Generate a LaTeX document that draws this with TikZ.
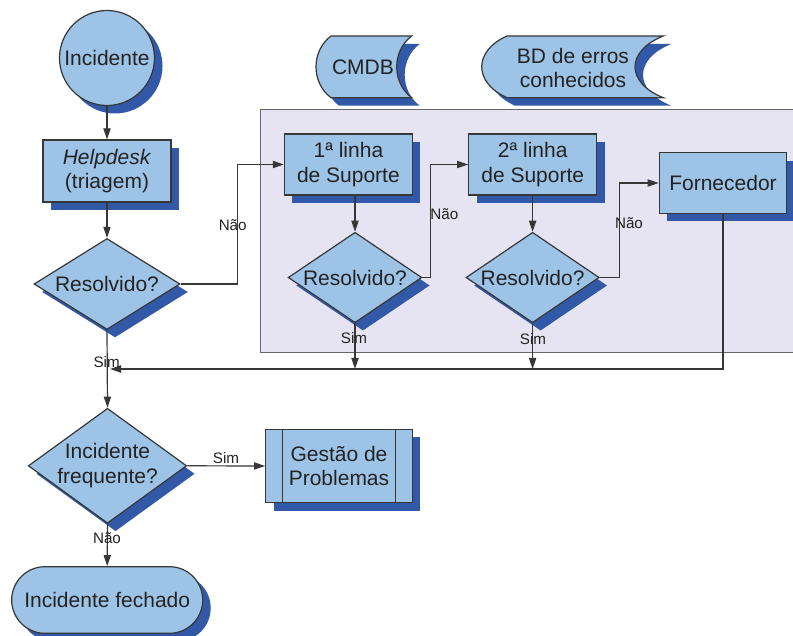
\documentclass[tikz,border=0pt]{standalone}
\usepackage{fontspec}
\setmainfont{Liberation Sans}
\usetikzlibrary{shapes.geometric,shadows,arrows.meta,calc}
\definecolor{boxblue}{RGB}{157,195,230}
\definecolor{shadowblue}{RGB}{50,89,168}
\definecolor{panelfill}{RGB}{230,228,242}
\definecolor{inkgray}{RGB}{35,35,35}
\definecolor{linegray}{RGB}{55,55,55}

% stored-data symbols (convex left side, concave right side)
\newcommand\cmdbshape[1]{\path[#1] (331,36) -- (411.7,36)
  .. controls (391.7,51) and (391.7,82.7) .. (411.7,97.7) -- (331,97.7)
  .. controls (311,82.7) and (311,51) .. (331,36) -- cycle;}
\newcommand\bdshape[1]{\path[#1] (507,36) -- (663.3,36)
  .. controls (625.6,51) and (625.6,82.7) .. (663.3,97.7) -- (507,97.7)
  .. controls (473.3,82.7) and (473.3,51) .. (507,36) -- cycle;}

\begin{document}
\begin{tikzpicture}[x=0.5pt,y=-0.5pt,
  font=\fontsize{10.5}{12.4}\selectfont, text=inkgray,
  dropshade/.style={drop shadow={shadow xshift=4pt,shadow yshift=-4pt,opacity=1,fill=shadowblue}},
  block/.style={draw=linegray, line width=0.6pt, fill=boxblue, dropshade, inner sep=0pt, align=center},
  procbox/.style={block, rectangle},
  decision/.style={block, diamond},
  flow/.style={draw=linegray, line width=0.6pt, -{Triangle[length=5.5pt,width=3.6pt]}},
  wire/.style={draw=linegray, line width=0.6pt},
  edgetag/.style={font=\fontsize{7.6}{9}\selectfont, inner sep=0pt}
]
\useasboundingbox (0,0) rectangle (793,636);
\clip (0,0) rectangle (793,636);
\fill[white] (0,0) rectangle (793,636);

% support area
\path[draw=black!60, line width=0.5pt, fill=panelfill] (260,110) rectangle (810,353);

% data stores
\cmdbshape{fill=shadowblue, shift={(8,8)}}
\cmdbshape{fill=boxblue, draw=linegray, line width=0.6pt}
\node (cmdb) at (363,67) {CMDB};
\bdshape{fill=shadowblue, shift={(8,8)}}
\bdshape{fill=boxblue, draw=linegray, line width=0.6pt}
\node[align=center] (bd) at (573,68) {BD de erros\\conhecidos};

% main flow
\node[block, circle, minimum size=47.5pt] (inc) at (107,58) {Incidente};
\node[procbox, minimum width=64pt, minimum height=31pt] (help) at (107,171) {\textit{Helpdesk}\\(triagem)};
\node[decision, minimum width=73pt, minimum height=45.5pt, label=center:Resolvido?] (d1) at (107,284) {};

\node[procbox, minimum width=64pt, minimum height=30.5pt] (l1) at (348.4,164.5) {1ª linha\\de Suporte};
\node[decision, minimum width=66.8pt, minimum height=45.2pt, label=center:Resolvido?] (d2) at (355,277.5) {};
\node[procbox, minimum width=64pt, minimum height=30.5pt] (l2) at (532.7,164.5) {2ª linha\\de Suporte};
\node[decision, minimum width=66.6pt, minimum height=45.2pt, label=center:Resolvido?] (d3) at (532.6,277.5) {};
\node[procbox, minimum width=63.7pt, minimum height=30.3pt] (forn) at (723,183) {Fornecedor};

\node[decision, minimum width=79.2pt, minimum height=57.5pt,
  label={[align=center]center:Incidente\\frequente?}] (d4) at (107.5,465.8) {};
\node[procbox, minimum width=73.3pt, minimum height=36.7pt] (gp) at (339,466) {Gestão de\\Problemas};
\draw[wire] ([xshift=8.8pt]gp.north west) -- ([xshift=8.8pt]gp.south west);
\draw[wire] ([xshift=-8.7pt]gp.north east) -- ([xshift=-8.7pt]gp.south east);
\node[block, rectangle, rounded corners=16.6pt, minimum width=95.5pt, minimum height=33.3pt] (fech) at (107.2,600) {Incidente fechado};

% connectors
\draw[flow] (inc) -- (help);
\draw[flow] (help) -- (d1);
\draw[flow] (d1.east) -- ++(56.7,0) |- (l1.west);
\draw[flow] (d2.north |- l1.south) -- (d2.north);
\draw[flow] (d2.east) -- ++(8.2,0) |- (l2.west);
\draw[flow] (d3.north |- l2.south) -- (d3.north);
\draw[flow] (d3.east) -- ++(19.4,0) |- (forn.west);

\coordinate (join) at (110,369);
\draw[flow] (forn.south) |- (join);
\draw[flow] (d2.south) -- (d2.south |- join);
\draw[flow] (d3.south) -- (d3.south |- join);
\draw[flow] (d1.south) -- (d4.north);
\draw[flow] (d4.east) -- (gp.west);
\draw[flow] (d4.south) -- (fech.north);

% branch labels
\node[edgetag] (t1) at (232.7,225) {Não};
\node[edgetag] (t2) at (444.4,214) {Não};
\node[edgetag] (t3) at (629,222.7) {Não};
\node[edgetag] (t4) at (354,338.3) {Sim};
\node[edgetag] (t5) at (533,339.3) {Sim};
\node[edgetag] (t6) at (106.7,361.7) {Sim};
\node[edgetag] (t7) at (226,458.3) {Sim};
\node[edgetag] (t8) at (107,538.3) {Não};
\end{tikzpicture}
\end{document}
